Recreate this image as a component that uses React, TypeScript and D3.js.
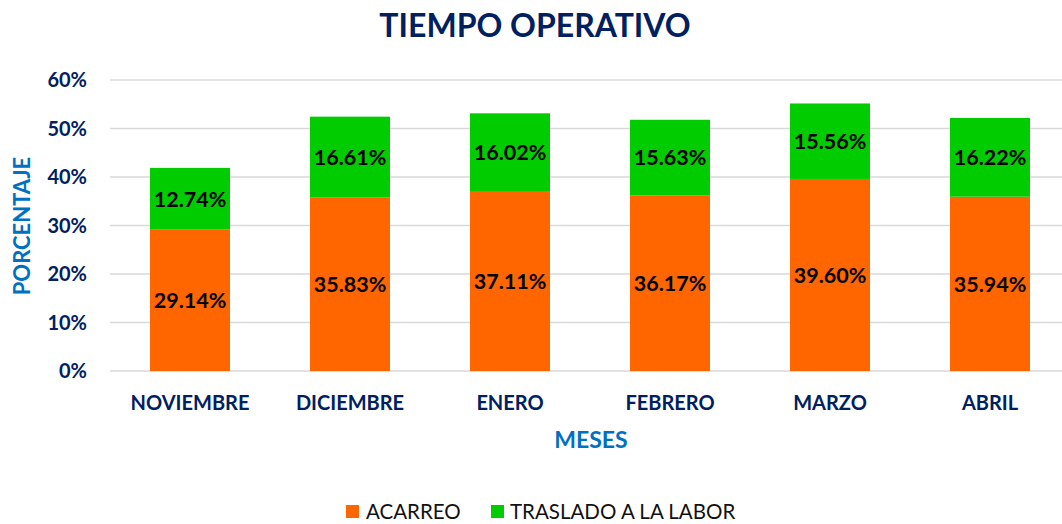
import React from 'react';
import * as d3 from 'd3';

const months = ['NOVIEMBRE', 'DICIEMBRE', 'ENERO', 'FEBRERO', 'MARZO', 'ABRIL'];
const acarreo = [29.14, 35.83, 37.11, 36.17, 39.6, 35.94];
const traslado = [12.74, 16.61, 16.02, 15.63, 15.56, 16.22];
const yTicks = [0, 10, 20, 30, 40, 50, 60];
const seriesNames = ['ACARREO', 'TRASLADO A LA LABOR'];
const colors = ['#FF6600', '#00CC00'];

const W = 1062;
const H = 524;
const font = 'Lato, "Open Sans", sans-serif';
const navy = '#002060';
const blue = '#0070C0';

export default function App() {
  if (typeof document !== 'undefined') document.body.style.margin = '0';

  const x = d3.scaleBand().domain(months).range([110, 1070]).paddingInner(0.5).paddingOuter(0.25);
  const y = d3.scaleLinear().domain([0, 60]).range([371, 80]);

  const rows = months.map((m, i) => ({ m, a: acarreo[i], t: traslado[i] }));
  const stacked = d3.stack<any>().keys(['a', 't'])(rows);

  return (
    <svg width={W} height={H} style={{ display: 'block', fontFamily: font }}>
      <rect width={W} height={H} fill="#fff" />
      <text x={535} y={37} textAnchor="middle" fontSize={32} fontWeight="bold" fill={navy}>
        TIEMPO OPERATIVO
      </text>

      {yTicks.map(t => (
        <g key={t}>
          <line x1={110} x2={W} y1={y(t)} y2={y(t)} stroke="#d9d9d9" strokeWidth={1.5} />
          <text x={87} y={y(t)} dy="0.35em" textAnchor="end" fontSize={20} fontWeight="bold" fill={navy}>
            {t}%
          </text>
        </g>
      ))}

      <text transform="translate(30,226) rotate(-90)" textAnchor="middle" fontSize={22} fontWeight="bold" fill={blue}>
        PORCENTAJE
      </text>

      {stacked.map((s, si) => (
        <g key={si}>
          {s.map((d, i) => {
            const top = y(d[1]);
            const bot = y(d[0]);
            const val = si === 0 ? acarreo[i] : traslado[i];
            return (
              <g key={i}>
                <rect x={x(months[i])} y={top} width={x.bandwidth()} height={bot - top} fill={colors[si]} />
                <text
                  x={x(months[i])! + x.bandwidth() / 2}
                  y={(top + bot) / 2}
                  dy="0.36em"
                  textAnchor="middle"
                  fontSize={21.5}
                  fontWeight="bold"
                  fill="#000"
                >
                  {val.toFixed(2)}%
                </text>
              </g>
            );
          })}
        </g>
      ))}

      {months.map(m => (
        <text key={m} x={x(m)! + x.bandwidth() / 2} y={410} textAnchor="middle" fontSize={20} fontWeight="bold" fill={navy}>
          {m}
        </text>
      ))}

      <text x={591} y={448} textAnchor="middle" fontSize={23} fontWeight="bold" fill={blue}>
        MESES
      </text>

      <g>
        <rect x={346} y={505} width={13} height={13} fill={colors[0]} />
        <text x={366} y={519} fontSize={20.5} fill="#111">{seriesNames[0]}</text>
        <rect x={491} y={505} width={13} height={13} fill={colors[1]} />
        <text x={510} y={519} fontSize={20.5} fill="#111">{seriesNames[1]}</text>
      </g>
    </svg>
  );
}
